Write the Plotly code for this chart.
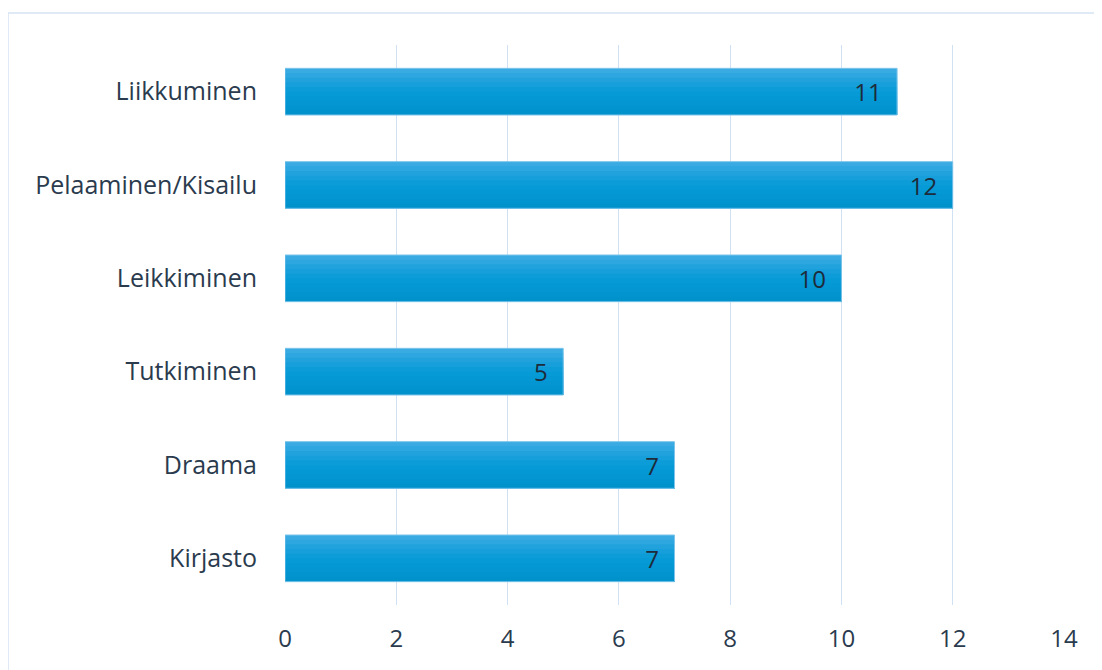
import plotly.graph_objects as go

categories = ["Liikkuminen", "Pelaaminen/Kisailu", "Leikkiminen", "Tutkiminen", "Draama", "Kirjasto"]
values = [11, 12, 10, 5, 7, 7]
x_ticks = [0, 2, 4, 6, 8, 10, 12, 14]

# gradient bands from top (light) to bottom (darker)
band_colors = ["#3aaae2", "#2ea6df", "#22a2dc", "#169fda", "#0c9cd8", "#069ad7",
               "#0498d5", "#0396d2", "#0294cf", "#0192cc"]

FONT = "Open Sans, sans-serif"
fig = go.Figure()
bw = 0.5
n = len(band_colors)
for i, c in enumerate(band_colors):
    fig.add_trace(go.Bar(
        y=categories, x=values, orientation="h",
        width=bw - i * bw / n, offset=-bw / 2 + i * bw / n,
        marker=dict(color=c, line=dict(width=0)),
        hoverinfo="skip", showlegend=False,
    ))

fig.add_trace(go.Bar(
    y=categories, x=values, orientation="h",
    width=bw, offset=-bw / 2,
    marker=dict(color="rgba(0,0,0,0)", line=dict(width=1, color="#7cc4ea")),
    text=[f"{v}\u00a0\u00a0" for v in values],
    textposition="inside", insidetextanchor="end",
    textfont=dict(family=FONT, size=24, color="#1d2b3a"),
    showlegend=False,
))

# page body has an 8px margin, so figure coords are offset by 8px
L, T = 277, 37
R = 1102 - (1064 - 8)
B = 670 - (605 - 8)
pw = 1102 - L - R
ph = 670 - T - B

fig.update_layout(
    width=1102, height=670,
    barmode="overlay",
    paper_bgcolor="white", plot_bgcolor="white",
    margin=dict(l=L, r=R, t=T, b=B),
    font=dict(family=FONT, size=24, color="#2b3b4e"),
    xaxis=dict(range=[0, 14], tickvals=x_ticks, showgrid=True, gridcolor="#d0e1f4",
               gridwidth=1, zeroline=False, showline=False,
               ticks="outside", ticklen=12, tickcolor="rgba(0,0,0,0)",
               tickfont=dict(family=FONT, size=24, color="#2b3b4e")),
    yaxis=dict(categoryorder="array", categoryarray=categories, autorange="reversed",
               showgrid=False, zeroline=False, showline=False, ticks="outside",
               ticklen=22, tickcolor="rgba(0,0,0,0)",
               tickfont=dict(family=FONT, size=25, color="#2b3b4e")),
    shapes=[dict(type="rect", xref="paper", yref="paper",
                 x0=(0 - L) / pw, x1=(1200 - L) / pw,
                 y0=-(200) / ph, y1=1 + (T - 5) / ph,
                 line=dict(color="#d6e4f5", width=1.5), fillcolor="rgba(0,0,0,0)",
                 layer="below")],
)

fig.write_html("out.html")
